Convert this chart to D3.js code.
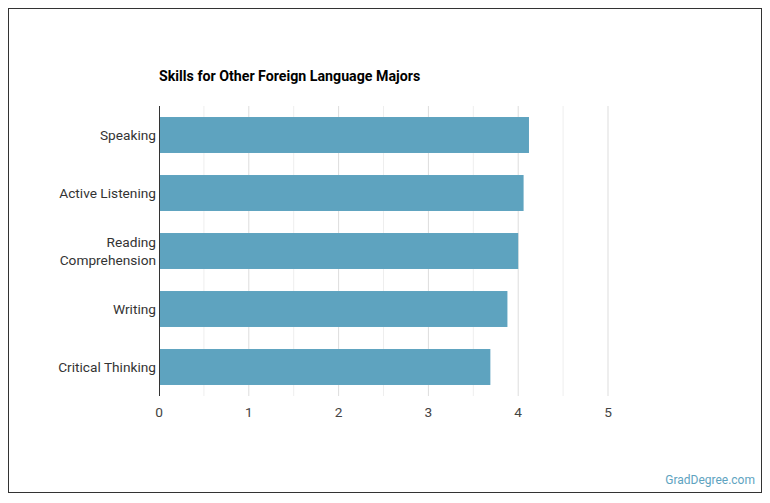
<!DOCTYPE html>
<html><head><meta charset="utf-8">
<script src="https://cdn.jsdelivr.net/npm/d3@7"></script>
<style>body{margin:0;background:#fff;font-family:Roboto,sans-serif}</style>
</head><body><svg id="c" width="770" height="503"></svg>
<script>
const categories = ["Speaking","Active Listening","Reading Comprehension","Writing","Critical Thinking"];
const values = [4.12, 4.06, 4.0, 3.88, 3.69];
const ticks = [0,1,2,3,4,5];
const gridTicks = [0.5,1,1.5,2,2.5,3,3.5,4,4.5,5];

const svg = d3.select("#c");
svg.append("rect").attr("x",8.5).attr("y",8.5).attr("width",753).attr("height",484)
  .attr("fill","#fff").attr("stroke","#333").attr("stroke-width",1);
svg.append("text").attr("x",159).attr("y",81).text("Skills for Other Foreign Language Majors")
  .attr("font-size",14.2).attr("font-weight","bold").attr("fill","#000");

const x = d3.scaleLinear().domain([0,5]).range([159,608]);
const y = d3.scaleBand().domain(categories).range([106,396]).paddingInner(0.38).paddingOuter(0.19);

svg.selectAll(".g").data(gridTicks).join("line")
  .attr("x1",d=>x(d)).attr("x2",d=>x(d)).attr("y1",106).attr("y2",396)
  .attr("stroke",d=>Number.isInteger(d)?"#ddd":"#eee").attr("stroke-width",1);

svg.selectAll(".b").data(values).join("rect")
  .attr("x",x(0)).attr("y",(d,i)=>y(categories[i])).attr("width",d=>x(d)-x(0))
  .attr("height",y.bandwidth()).attr("fill","#5ea3bf");

svg.append("line").attr("x1",159.5).attr("x2",159.5).attr("y1",106).attr("y2",396).attr("stroke","#333");

svg.selectAll(".xt").data(ticks).join("text")
  .attr("x",d=>x(d)).attr("y",417).attr("text-anchor","middle").attr("font-size",13.7).attr("fill","#444").text(d=>d);

categories.forEach(c=>{
  const cy = y(c)+y.bandwidth()/2;
  if(c==="Reading Comprehension"){
    ["Reading","Comprehension"].forEach((t,k)=>svg.append("text").attr("x",156).attr("y",cy-9+k*18+5)
      .attr("text-anchor","end").attr("font-size",13.7).attr("fill","#333").text(t));
  } else {
    svg.append("text").attr("x",156).attr("y",cy+5).attr("text-anchor","end").attr("font-size",13.7).attr("fill","#333").text(c);
  }
});
svg.append("text").attr("x",755).attr("y",484).attr("text-anchor","end").attr("font-size",12).attr("fill","#5ea3bf").text("GradDegree.com");
</script></body></html>
